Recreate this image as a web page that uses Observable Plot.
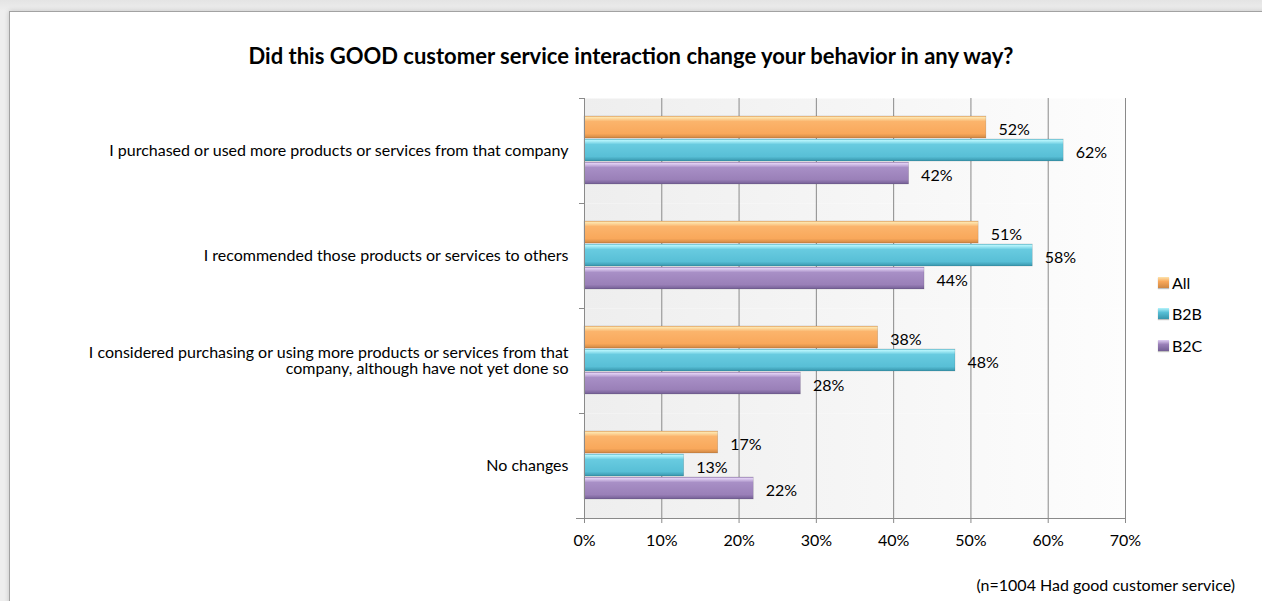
<!DOCTYPE html>
<html>
<head>
<meta charset="utf-8">
<script src="https://cdn.jsdelivr.net/npm/d3@7"></script>
<script src="https://cdn.jsdelivr.net/npm/@observablehq/plot@0.6"></script>
<style>
  html, body { margin: 0; padding: 0; }
  body { width: 1262px; height: 601px; overflow: hidden; position: relative;
         background: linear-gradient(#e4e4e4, #eeeeee 11px); font-family: Lato, "DejaVu Sans", sans-serif; }
  #frame { position: absolute; left: 9px; top: 11px; width: 1300px; height: 700px; background: #fff;
           border: 1px solid #a2a2a2; box-shadow: 0 0 5px rgba(0,0,0,0.18); }
  #chart { position: absolute; left: 0; top: 0; }
  #title { position: absolute; left: 0; top: 43px; width: 1262px; text-align: center;
           font-weight: bold; font-size: 22px; line-height: 26px; color: #000; }
  #legend { position: absolute; left: 1158px; top: 272px; font-size: 16px; color: #000; }
  .lg { display: flex; align-items: center; height: 20px; margin-bottom: 11.5px; }
  .sw { width: 11px; height: 11px; margin-right: 3px; box-shadow: 0 1px 1px rgba(0,0,0,0.25); }
  #note { position: absolute; right: 27px; top: 575px; font-size: 16px; line-height: 20px; color: #000; }
</style>
</head>
<body>
<svg width="0" height="0" style="position:absolute">
  <defs>
    <linearGradient id="plotBg" x1="0" y1="0" x2="1" y2="0">
      <stop offset="0" stop-color="#eeeeee"/>
      <stop offset="1" stop-color="#fdfdfd"/>
    </linearGradient>
    <linearGradient id="gAll" x1="0" y1="0" x2="0" y2="1">
      <stop offset="0" stop-color="#f3b06a"/>
      <stop offset="0.07" stop-color="#fde4ad"/>
      <stop offset="0.25" stop-color="#fbb46c"/>
      <stop offset="0.8" stop-color="#f9a85b"/>
      <stop offset="1" stop-color="#cf8743"/>
    </linearGradient>
    <linearGradient id="gB2B" x1="0" y1="0" x2="0" y2="1">
      <stop offset="0" stop-color="#6cc7da"/>
      <stop offset="0.07" stop-color="#b4f3fb"/>
      <stop offset="0.25" stop-color="#68cbe0"/>
      <stop offset="0.8" stop-color="#58bfd6"/>
      <stop offset="1" stop-color="#3795ac"/>
    </linearGradient>
    <linearGradient id="gB2C" x1="0" y1="0" x2="0" y2="1">
      <stop offset="0" stop-color="#a48bc0"/>
      <stop offset="0.07" stop-color="#e0cff3"/>
      <stop offset="0.25" stop-color="#a88fc6"/>
      <stop offset="0.8" stop-color="#9a80b8"/>
      <stop offset="1" stop-color="#735e94"/>
    </linearGradient>
  </defs>
</svg>
<div id="frame"></div>
<div id="chart"></div>
<div id="title"></div>
<div id="legend"></div>
<div id="note"></div>
<script>
// ---- data ----
const titleText = "Did this GOOD customer service interaction change your behavior in any way?";
const noteText = "(n=1004 Had good customer service)";
const categories = [
  "I purchased or used more products or services from that company",
  "I recommended those products or services to others",
  "I considered purchasing or using more products or services from that\ncompany, although have not yet done so",
  "No changes"
];
const seriesNames = ["All", "B2B", "B2C"];
const allValues = [52, 51, 38, 17.3];
const b2bValues = [62, 58, 48, 12.9];
const b2cValues = [42, 44, 28, 21.9];
const xTicks = [0, 10, 20, 30, 40, 50, 60, 70];
const seriesFills = ["url(#gAll)", "url(#gB2B)", "url(#gB2C)"];

const seriesValues = [allValues, b2bValues, b2cValues];
const rows = categories.flatMap((c, i) =>
  seriesNames.map((s, j) => ({category: c, series: s, value: seriesValues[j][i]})));

const boundaryTicks = (index, scales, values, dims) => {
  const g = d3.create("svg:g").attr("stroke", "#8a8a8a").attr("fill", "none");
  const {marginLeft, marginTop, marginBottom, height} = dims;
  for (const yy of [marginTop, height - marginBottom]) {
    g.append("line").attr("x1", marginLeft - 5).attr("x2", marginLeft)
      .attr("y1", yy + 0.5).attr("y2", yy + 0.5);
  }
  return g.node();
};

const chart = Plot.plot({
  width: 1262,
  height: 601,
  marginLeft: 584,
  marginRight: 137,
  marginTop: 97,
  marginBottom: 82,
  style: {background: "transparent", fontFamily: "Lato, sans-serif", fontSize: "16px", color: "#000", overflow: "visible"},
  x: {domain: [0, 70], ticks: xTicks, tickFormat: d => d + "%", label: null},
  y: {domain: seriesNames, paddingInner: 0.04, paddingOuter: 0.76, axis: null},
  fy: {domain: categories, paddingInner: 0, paddingOuter: 0, label: null, axis: null},
  color: {domain: seriesNames, range: seriesFills},
  marks: [
    Plot.frame({fill: "url(#plotBg)", stroke: "none"}),
    Plot.gridX({ticks: xTicks, stroke: "#8a8a8a", strokeOpacity: 1}),
    Plot.barX(rows, {x: "value", y: "series", fy: "category", fill: "series",
      stroke: "rgba(0,0,0,0.18)", strokeWidth: 0.6}),
    Plot.text(rows, {x: "value", y: "series", fy: "category", fontSize: 16,
      text: d => `${Math.round(d.value)}%`, textAnchor: "start", dx: 12, dy: 2, fill: "#000"}),
    Plot.axisX({ticks: xTicks, tickFormat: d => d + "%", tickSize: 5, tickPadding: 11, fontSize: 16,
      stroke: "#8a8a8a", fill: "#000", label: null}),
    Plot.axisFy({anchor: "left", tickSize: 0, tickPadding: 16, label: null, lineWidth: 1000,
      lineHeight: 0.98, fontSize: 16, fill: "#000"}),
    Plot.frame({anchor: "left", stroke: "#8a8a8a"}),
    Plot.frame({anchor: "bottom", stroke: "#8a8a8a", facetAnchor: "bottom", insetLeft: -8}),
    boundaryTicks
  ]
});
document.getElementById("chart").appendChild(chart);

document.getElementById("title").textContent = titleText;
document.getElementById("note").textContent = noteText;
const legend = document.getElementById("legend");
seriesNames.forEach((s, i) => {
  const row = document.createElement("div");
  row.className = "lg";
  const sw = document.createElement("div");
  sw.className = "sw";
  const grad = [["#fde4ad", "#f9a85b", "#cf8743"], ["#b4f3fb", "#58bfd6", "#3795ac"], ["#e0cff3", "#9a80b8", "#735e94"]][i];
  sw.style.background = `linear-gradient(${grad[0]}, ${grad[1]} 40%, ${grad[2]})`;
  const t = document.createElement("span");
  t.textContent = s;
  row.appendChild(sw);
  row.appendChild(t);
  legend.appendChild(row);
});
</script>
</body>
</html>
